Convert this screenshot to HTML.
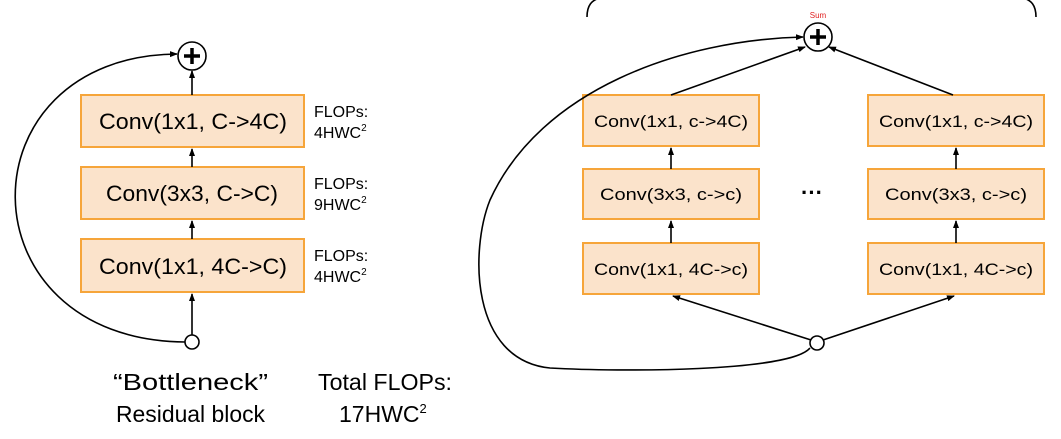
<!DOCTYPE html>
<html><head><meta charset="utf-8"><style>
html,body{margin:0;padding:0;background:#fff;}
svg{display:block;font-family:"Liberation Sans",Arial,sans-serif;}
</style></head><body>
<svg width="1061" height="439" viewBox="0 0 1061 439" xmlns="http://www.w3.org/2000/svg">
<defs>
<marker id="a" markerWidth="8" markerHeight="8" refX="7" refY="4" orient="auto" markerUnits="userSpaceOnUse">
<path d="M0,1 L8,4 L0,7 z" fill="#000"/></marker>
</defs>
<g stroke="#f6a53a" stroke-width="2" fill="#fbe3cb">
<rect x="81" y="95" width="223" height="52"/>
<rect x="81" y="167" width="223" height="52"/>
<rect x="81" y="239" width="223" height="53"/>
<rect x="583" y="95" width="176" height="51"/>
<rect x="583" y="169" width="176" height="50"/>
<rect x="583" y="243" width="176" height="51"/>
<rect x="868" y="95" width="176" height="51"/>
<rect x="868" y="169" width="176" height="50"/>
<rect x="868" y="243" width="176" height="51"/>
</g>
<g font-size="22" fill="#000">
<text x="99" y="129" textLength="188" lengthAdjust="spacingAndGlyphs">Conv(1x1, C-&gt;4C)</text>
<text x="106" y="201" textLength="172" lengthAdjust="spacingAndGlyphs">Conv(3x3, C-&gt;C)</text>
<text x="99" y="274" textLength="188" lengthAdjust="spacingAndGlyphs">Conv(1x1, 4C-&gt;C)</text>
</g>
<g font-size="17" fill="#000">
<text x="594" y="127" textLength="154" lengthAdjust="spacingAndGlyphs">Conv(1x1, c-&gt;4C)</text>
<text x="600" y="200" textLength="142" lengthAdjust="spacingAndGlyphs">Conv(3x3, c-&gt;c)</text>
<text x="594" y="275" textLength="154" lengthAdjust="spacingAndGlyphs">Conv(1x1, 4C-&gt;c)</text>
<text x="879" y="127" textLength="154" lengthAdjust="spacingAndGlyphs">Conv(1x1, c-&gt;4C)</text>
<text x="885" y="200" textLength="142" lengthAdjust="spacingAndGlyphs">Conv(3x3, c-&gt;c)</text>
<text x="879" y="275" textLength="154" lengthAdjust="spacingAndGlyphs">Conv(1x1, 4C-&gt;c)</text>
</g>
<g font-size="16" fill="#000">
<text x="314" y="117">FLOPs:</text><text x="314" y="138">4HWC<tspan font-size="10" dy="-7">2</tspan></text>
<text x="314" y="189">FLOPs:</text><text x="314" y="210">9HWC<tspan font-size="10" dy="-7">2</tspan></text>
<text x="314" y="261">FLOPs:</text><text x="314" y="282">4HWC<tspan font-size="10" dy="-7">2</tspan></text>
</g>
<g font-size="23" fill="#000">
<text x="113" y="390" textLength="155" lengthAdjust="spacingAndGlyphs">“Bottleneck”</text>
<text x="116" y="422" textLength="149" lengthAdjust="spacingAndGlyphs">Residual block</text>
<text x="318" y="390" textLength="134" lengthAdjust="spacingAndGlyphs">Total FLOPs:</text>
<text x="339" y="422">17HWC<tspan font-size="13" dy="-9">2</tspan></text>
</g>
<text x="812" y="200" font-size="22" font-weight="bold" text-anchor="middle">···</text>
<g stroke="#000" stroke-width="1.6" fill="none">
<line x1="192" y1="335" x2="192" y2="294" marker-end="url(#a)"/>
<line x1="192" y1="239" x2="192" y2="221" marker-end="url(#a)"/>
<line x1="192" y1="167" x2="192" y2="149" marker-end="url(#a)"/>
<line x1="192" y1="95" x2="192" y2="71" marker-end="url(#a)"/>
<path d="M185,342 C-40,340 -40,56 177,54" marker-end="url(#a)"/>
<line x1="671" y1="243" x2="671" y2="221" marker-end="url(#a)"/>
<line x1="671" y1="169" x2="671" y2="148" marker-end="url(#a)"/>
<line x1="956" y1="243" x2="956" y2="221" marker-end="url(#a)"/>
<line x1="956" y1="169" x2="956" y2="148" marker-end="url(#a)"/>
<line x1="811" y1="340" x2="673" y2="296" marker-end="url(#a)"/>
<line x1="823" y1="340" x2="954" y2="296" marker-end="url(#a)"/>
<line x1="671" y1="95" x2="805" y2="47" marker-end="url(#a)"/>
<line x1="953" y1="95" x2="829" y2="47" marker-end="url(#a)"/>
<path d="M810,348 C790,372 620,372 550,368 C470,360 470,250 490,200 C540,90 680,40 803,37" marker-end="url(#a)"/>
<path d="M587,17 C587,5 592,0 600,-2 M1036,17 C1036,5 1031,0 1023,-2"/>
<circle cx="192" cy="342" r="7" fill="#fff"/>
<circle cx="817" cy="343" r="7" fill="#fff"/>
<circle cx="192" cy="56" r="14" fill="#fff"/>
<circle cx="818" cy="37" r="14" fill="#fff"/>
</g>
<g stroke="#000" stroke-width="3.5">
<line x1="184" y1="56" x2="200" y2="56"/><line x1="192" y1="48" x2="192" y2="64"/>
<line x1="810" y1="37" x2="826" y2="37"/><line x1="818" y1="29" x2="818" y2="45"/>
</g>
<text x="818" y="18" font-size="8" fill="#e02020" text-anchor="middle">Sum</text>
</svg>
</body></html>
